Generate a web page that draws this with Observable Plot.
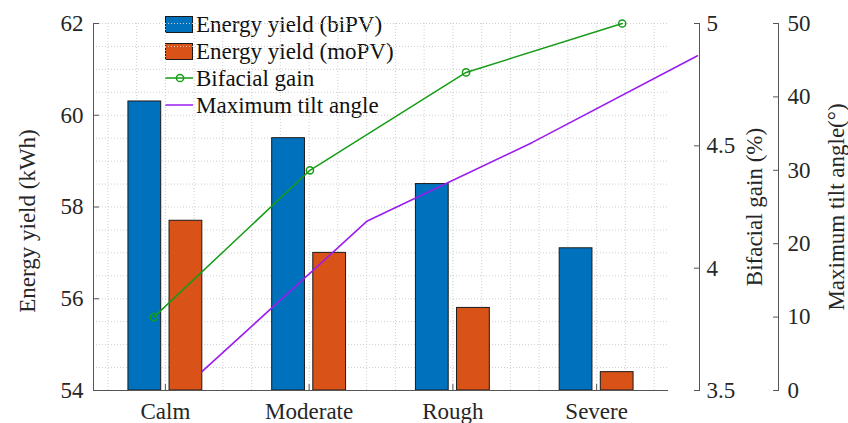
<!DOCTYPE html>
<html>
<head>
<meta charset="utf-8">
<script src="https://cdn.jsdelivr.net/npm/d3@7"></script>
<script src="https://cdn.jsdelivr.net/npm/@observablehq/plot@0.6"></script>
<style>
  body { margin: 0; background: #fff; }
  #wrap { position: relative; width: 848px; height: 423px; font-family: 'Liberation Serif', serif; overflow: hidden; }
  #wrap svg { position: absolute; left: 0; top: 0; }
  #wrap svg text { font-family: 'Liberation Serif', serif; }
  #legend { position: absolute; left: 165px; top: 10.7px; font-family: 'Liberation Serif', serif; font-size: 23px; color: #111; }
  #legend .row { display: flex; align-items: center; height: 27px; line-height: 27px; white-space: nowrap; }
  #legend .sw { width: 28px; height: 17px; margin-right: 3px; display: flex; align-items: center; justify-content: center; }
</style>
</head>
<body>
<div id="wrap"><div id="legend"></div></div>
<script>
// ---- data ----
const categories = ["Calm", "Moderate", "Rough", "Severe"];
const yieldBiPV = [60.3, 59.5, 58.5, 57.1];
const yieldMoPV = [57.7, 57.0, 55.8, 54.4];
const bifacialGain = [3.8, 4.4, 4.8, 5.0];
const tiltAngle = [2.6, 23.1, 33.8, 45.6];
const seriesNames = ["Energy yield (biPV)", "Energy yield (moPV)", "Bifacial gain", "Maximum tilt angle"];
const yieldTicks = [54, 56, 58, 60, 62];
const gainTicks = [3.5, 4, 4.5, 5];
const tiltTicks = [0, 10, 20, 30, 40, 50];
const axisTitles = ["Energy yield (kWh)", "Bifacial gain (%)", "Maximum tilt angle(°)"];

// ---- styling ----
const W = 848, H = 423;
const colors = ["#0072BD", "#D95319", "#169c16", "#9b1cf0"];
const axisColor = "#555";
const gridColor = "#cfcfcf";
const font = {fontFamily: "'Liberation Serif', serif", fontSize: "23px", color: "#262626", background: "transparent", overflow: "visible"};
const yieldDomain = [54, 62];

const barRows = categories.flatMap((c, i) => [
  {i: i + 1, series: seriesNames[0], value: yieldBiPV[i], side: -1},
  {i: i + 1, series: seriesNames[1], value: yieldMoPV[i], side: 1}
]);
const gainRows = categories.map((c, i) => ({i: i + 1, v: bifacialGain[i]}));
const tiltRows = categories.map((c, i) => ({i: i + 1, v: tiltAngle[i]}));
const inner = 0.029, outer = 0.257;

const wrap = document.getElementById("wrap");

// Bars + left axis + category axis
const plotA = Plot.plot({
  width: W, height: H,
  marginLeft: 93, marginRight: 180, marginTop: 23, marginBottom: 33,
  style: font,
  x: {domain: [0.5, 4.5], axis: null},
  y: {domain: yieldDomain, axis: null},
  color: {domain: seriesNames.slice(0, 2), range: colors.slice(0, 2)},
  marks: [
    Plot.ruleY(d3.range(54.5, 62.01, 0.5), {stroke: gridColor, strokeDasharray: "1,2"}),
    Plot.ruleX(d3.range(0.6, 4.41, 0.2), {stroke: gridColor, strokeDasharray: "1,2"}),
    Plot.rectY(barRows, {
      x1: d => d.side < 0 ? d.i - outer : d.i + inner,
      x2: d => d.side < 0 ? d.i - inner : d.i + outer,
      y1: yieldDomain[0], y2: "value",
      fill: "series", stroke: "#1a1a1a", strokeWidth: 1
    }),
    Plot.ruleX([0.5], {stroke: axisColor}),
    Plot.ruleY([yieldDomain[0]], {stroke: axisColor}),
    Plot.axisY({ticks: yieldTicks, tickFormat: d => String(d), tickSize: -6, tickPadding: 16, label: null, stroke: axisColor}),
    Plot.axisX({ticks: [1, 2, 3, 4], tickFormat: i => categories[i - 1], tickSize: -6, tickPadding: 18, label: null, stroke: axisColor}),
    Plot.text([axisTitles[0]], {frameAnchor: "left", dx: -59, dy: 14, rotate: -90, textAnchor: "middle", lineAnchor: "bottom", fill: "#262626"})
  ]
});
wrap.appendChild(plotA);

// Bifacial gain line + its right axis
const gStep = (621.7 - 153.3) / 3;
const plotB = Plot.plot({
  width: W, height: H,
  marginLeft: 153.3, marginRight: W - 699, marginTop: 23, marginBottom: 33,
  style: font,
  x: {domain: [1, 1 + (699 - 153.3) / gStep], axis: null},
  y: {domain: [3.5, 5], axis: null},
  marks: [
    Plot.line(gainRows, {x: "i", y: "v", stroke: colors[2], strokeWidth: 1.5}),
    Plot.dot(gainRows, {x: "i", y: "v", r: 3.6, stroke: colors[2], strokeWidth: 1.5, fill: "none"}),
    Plot.ruleX([1 + (699 - 153.3) / gStep], {stroke: axisColor}),
    Plot.axisY({anchor: "right", ticks: gainTicks, tickFormat: d => String(d), tickSize: -6, tickPadding: 13, label: null, stroke: axisColor}),
    Plot.text([axisTitles[1]], {frameAnchor: "right", dx: 62, dy: 0, rotate: -90, textAnchor: "middle", lineAnchor: "bottom", fill: "#262626"})
  ]
});
wrap.appendChild(plotB);

// Tilt angle line + its right axis
const tStep = (697 - 201.7) / 3;
const plotC = Plot.plot({
  width: W, height: H,
  marginLeft: 201.7, marginRight: W - 778, marginTop: 23, marginBottom: 33,
  style: font,
  x: {domain: [1, 1 + (778 - 201.7) / tStep], axis: null},
  y: {domain: [0, 50], axis: null},
  marks: [
    Plot.line(tiltRows, {x: "i", y: "v", stroke: colors[3], strokeWidth: 1.6}),
    Plot.ruleX([1 + (778 - 201.7) / tStep], {stroke: axisColor}),
    Plot.axisY({anchor: "right", ticks: tiltTicks, tickFormat: d => String(d), tickSize: -6, tickPadding: 15, label: null, stroke: axisColor}),
    Plot.text([axisTitles[2]], {frameAnchor: "right", dx: 65, dy: 0, rotate: -90, textAnchor: "middle", lineAnchor: "bottom", fill: "#262626"})
  ]
});
wrap.appendChild(plotC);

// Legend
const legend = document.getElementById("legend");
seriesNames.forEach((name, k) => {
  const row = document.createElement("div");
  row.className = "row";
  const sw = document.createElement("div");
  sw.className = "sw";
  if (k < 2) {
    sw.style.background = colors[k];
    sw.style.border = "1px solid #1a1a1a";
    sw.style.boxSizing = "border-box";
  } else {
    const ns = "http://www.w3.org/2000/svg";
    const s = document.createElementNS(ns, "svg");
    s.setAttribute("width", "30"); s.setAttribute("height", "12");
    s.style.position = "static";
    const ln = document.createElementNS(ns, "line");
    ln.setAttribute("x1", "0"); ln.setAttribute("x2", "30");
    ln.setAttribute("y1", "6"); ln.setAttribute("y2", "6");
    ln.setAttribute("stroke", colors[k]); ln.setAttribute("stroke-width", "1.5");
    s.appendChild(ln);
    if (k === 2) {
      const c = document.createElementNS(ns, "circle");
      c.setAttribute("cx", "15"); c.setAttribute("cy", "6"); c.setAttribute("r", "3.6");
      c.setAttribute("fill", "none"); c.setAttribute("stroke", colors[k]); c.setAttribute("stroke-width", "1.5");
      s.appendChild(c);
    }
    sw.appendChild(s);
  }
  row.appendChild(sw);
  const t = document.createElement("span");
  t.textContent = name;
  row.appendChild(t);
  legend.appendChild(row);
});
</script>
</body>
</html>
